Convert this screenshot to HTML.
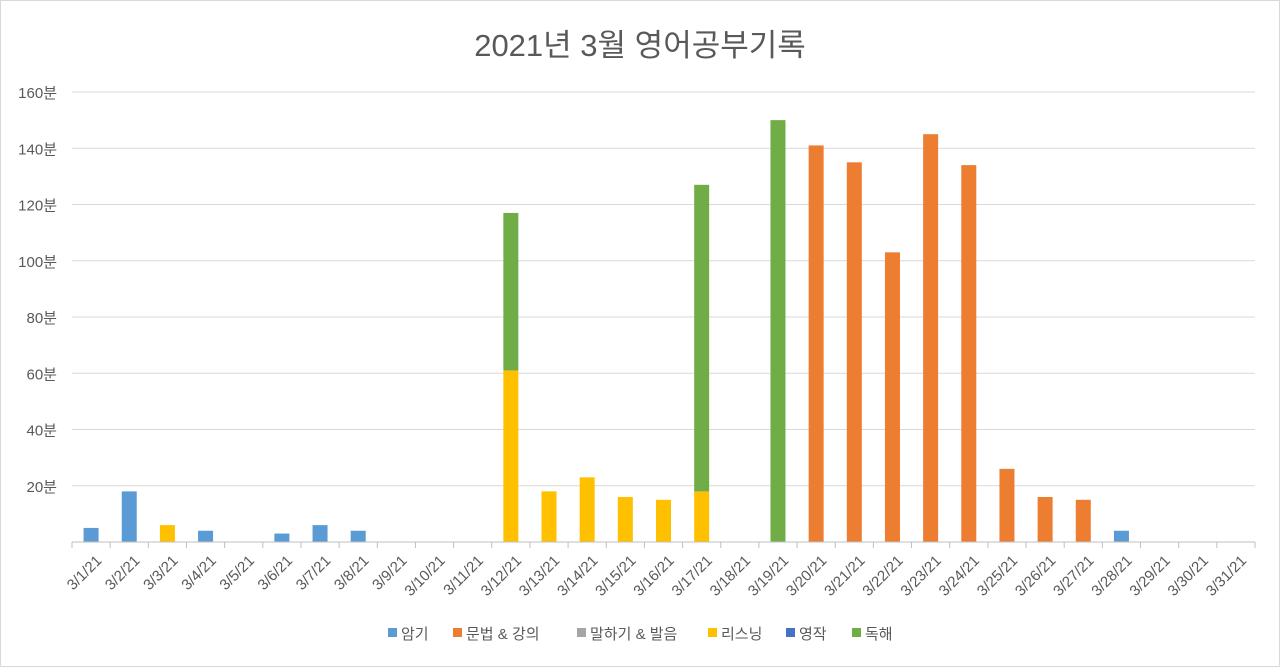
<!DOCTYPE html>
<html><head><meta charset="utf-8"><style>
html,body{margin:0;padding:0;background:#fff}
svg{display:block;font-family:"Liberation Sans","Noto Sans CJK KR",sans-serif}
</style></head><body>
<svg id="chart" width="1280" height="667" viewBox="0 0 1280 667">
<rect x="0.5" y="0.5" width="1279" height="666" fill="#fff" stroke="#d9d9d9"/>
<text x="640" y="56" text-anchor="middle" font-size="31" fill="#595959">2021년 3월 영어공부기록</text>
<g id="grid"></g><g id="bars"></g><g id="axes"></g><g id="legend"></g>
</svg>
<script>
const categories = [];
for (let d = 1; d <= 31; d++) categories.push('3/' + d + '/21');
const seriesNames = ['암기','문법 & 강의','말하기 & 발음','리스닝','영작','독해'];
const seriesColors = ['#5B9BD5','#ED7D31','#A5A5A5','#FFC000','#4472C4','#70AD47'];
const memorize = [5,18,0,4,0,3,6,4,0,0,0,0,0,0,0,0,0,0,0,0,0,0,0,0,0,0,0,4,0,0,0];
const grammar  = [0,0,0,0,0,0,0,0,0,0,0,0,0,0,0,0,0,0,0,141,135,103,145,134,26,16,15,0,0,0,0];
const speaking = new Array(31).fill(0);
const listening= [0,0,6,0,0,0,0,0,0,0,0,61,18,23,16,15,18,0,0,0,0,0,0,0,0,0,0,0,0,0,0];
const writing  = new Array(31).fill(0);
const reading  = [0,0,0,0,0,0,0,0,0,0,0,56,0,0,0,0,109,0,150,0,0,0,0,0,0,0,0,0,0,0,0];
const yTicks = [20,40,60,80,100,120,140,160];
const series = [memorize,grammar,speaking,listening,writing,reading];

const NS='http://www.w3.org/2000/svg';
const x0=72,x1=1255,y0=542,y1=92,ymax=160;
const band=(x1-x0)/categories.length;
const xc=i=>x0+band*(i+0.5);
const ys=v=>y0-(v/ymax)*(y0-y1);
function mk(tag,attrs,parent){const e=document.createElementNS(NS,tag);for(const k in attrs)e.setAttribute(k,attrs[k]);parent.appendChild(e);return e;}
const grid=document.getElementById('grid'),bars=document.getElementById('bars'),axes=document.getElementById('axes'),legend=document.getElementById('legend');

yTicks.forEach(t=>{
  const l=mk('line',{x1:x0,x2:x1,y1:ys(t),y2:ys(t),stroke:'#d9d9d9','stroke-width':1},grid);
  
  
  const tx=mk('text',{x:57,y:ys(t)+6,'text-anchor':'end','font-size':15,fill:'#595959'},axes);
  tx.textContent=t+'분';
  
  
});
const ax=mk('line',{x1:x0,x2:x1,y1:y0,y2:y0,stroke:'#bfbfbf','stroke-width':1},axes);


for(let i=0;i<=categories.length;i++){
  const tk=mk('line',{x1:x0+band*i,x2:x0+band*i,y1:y0,y2:y0+6,stroke:'#bfbfbf'},axes);
  
  
}
categories.forEach((c,i)=>{
  const x=xc(i)+4,y=y0+12;
  const t=mk('text',{x:x,y:y,'text-anchor':'end','font-size':15,fill:'#595959',transform:`rotate(-45 ${x} ${y})`,dy:'0.7em'},axes);
  t.textContent=c;
  
  
});
const bw=15;
categories.forEach((c,i)=>{
  let acc=0;
  series.forEach((s,k)=>{
    const v=s[i]; if(!v) return;
    const r=mk('rect',{x:xc(i)-bw/2,y:ys(acc+v),width:bw,height:ys(acc)-ys(acc+v),fill:seriesColors[k]},bars);
    
    
    acc+=v;
  });
});
const lx=[388,453,577,708,786,852];
seriesNames.forEach((n,k)=>{
  const g=mk('g',{},legend);
  
  
  mk('rect',{x:lx[k],y:628,width:9,height:9,fill:seriesColors[k]},g);
  const t=mk('text',{x:lx[k]+13,y:639,'font-size':15,fill:'#595959'},g);
  t.textContent=n;
});
</script>
</body></html>
